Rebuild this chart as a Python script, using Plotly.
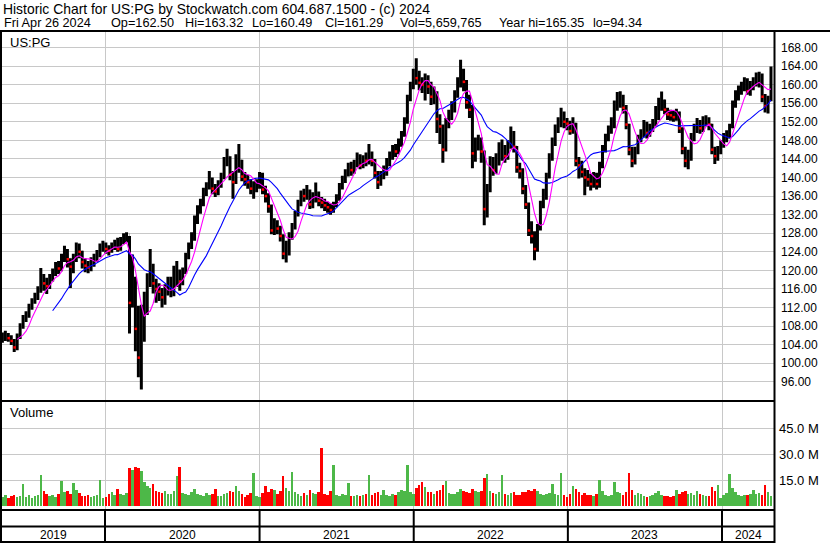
import plotly.graph_objects as go
import pandas as pd

W, H = 830, 543

# ---------------- data (weekly) ----------------
week_end = pd.date_range("2019-05-03", periods=261, freq="W-FRI")

close = [
    105.5, 106.2, 105.4, 104.8, 103.4, 105.6, 107.8, 109.6, 110.2, 112.0,
    113.2, 114.0, 115.8, 118.2, 117.2, 116.6, 118.4, 119.6, 120.8, 120.4,
    122.6, 124.2, 122.4, 120.8, 122.6, 124.8, 124.0, 121.8, 121.0, 120.6,
    122.0, 122.6, 123.6, 125.0, 125.4, 124.6, 124.2, 125.2, 125.8, 124.6,
    126.2, 127.2, 127.6, 113.0, 118.4, 107.4, 101.2, 108.2, 112.4, 117.2,
    121.0, 117.2, 116.0, 115.4, 114.2, 115.2, 116.6, 117.0, 117.6, 119.0,
    117.6, 119.6, 123.0, 125.2, 127.0, 131.0, 133.0, 134.6, 137.0, 138.2,
    139.6, 137.6, 137.0, 138.6, 140.2, 143.0, 144.4, 140.6, 139.0, 142.2,
    143.6, 140.2, 139.6, 139.0, 137.6, 138.0, 138.6, 139.0, 137.4, 136.0,
    133.8, 128.6, 130.0, 129.0, 127.4, 123.6, 124.2, 127.2, 129.2, 132.0,
    134.4, 136.4, 136.0, 137.0, 134.2, 135.6, 136.2, 135.0, 134.6, 134.0,
    133.6, 133.0, 134.2, 135.6, 138.0, 139.6, 141.0, 142.4, 141.6, 143.0,
    144.6, 142.6, 144.0, 143.6, 145.0, 143.6, 141.0, 139.0, 140.6, 141.2,
    143.2, 144.6, 146.2, 145.6, 147.6, 149.2, 152.2, 157.0, 159.6, 162.6,
    161.4, 160.4, 160.0, 161.2, 159.6, 157.4, 158.2, 152.6, 151.0, 146.0,
    151.6, 153.2, 154.6, 157.6, 160.2, 162.4, 160.6, 156.2, 154.6, 145.2,
    147.2, 148.0, 145.6, 133.2, 137.4, 143.2, 141.6, 143.6, 145.2, 146.2,
    144.6, 146.6, 149.6, 146.6, 142.2, 141.4, 137.6, 134.2, 128.6, 127.4,
    124.6, 129.2, 134.2, 135.6, 140.2, 144.2, 147.6, 150.6, 151.2, 153.2,
    152.0, 151.6, 150.0, 151.6, 143.6, 142.6, 141.2, 140.0, 139.6, 138.6,
    140.2, 138.6, 142.6, 146.2, 148.6, 150.4, 151.2, 155.6, 156.6, 157.4,
    155.0, 151.4, 146.0, 143.6, 145.6, 148.2, 149.2, 151.6, 149.6, 150.6,
    151.6, 152.6, 155.6, 156.6, 154.6, 153.6, 153.4, 153.0, 154.0, 150.6,
    146.2, 143.6, 144.2, 148.6, 150.4, 151.6, 150.6, 152.0, 152.6, 151.4,
    146.0, 144.6, 145.6, 147.2, 148.6, 149.0, 150.6, 155.6, 157.6, 158.6,
    159.6, 160.6, 158.6, 159.6, 160.6, 161.6, 162.0, 157.4, 155.4, 156.6,
    161.29,
]

high = [
    106.6, 107.0, 106.5, 106.0, 105.2, 106.4, 108.6, 110.4, 111.2, 112.8,
    114.0, 115.2, 116.6, 120.5, 119.2, 118.4, 119.2, 120.4, 121.8, 122.0,
    123.6, 125.3, 124.6, 122.6, 123.6, 126.0, 125.8, 124.2, 122.6, 122.0,
    122.8, 123.6, 124.4, 125.8, 126.4, 126.0, 125.4, 126.0, 126.6, 127.0,
    127.2, 128.0, 128.2, 127.4, 123.4, 118.6, 112.4, 112.6, 115.4, 119.4,
    124.6, 121.4, 118.2, 117.2, 116.2, 117.0, 118.6, 118.6, 121.0, 122.0,
    120.2, 120.6, 123.8, 126.0, 128.2, 131.8, 134.0, 135.4, 137.8, 139.0,
    141.4, 140.0, 138.6, 139.4, 141.0, 144.4, 146.2, 144.6, 141.4, 145.0,
    147.2, 143.8, 141.2, 140.6, 139.6, 139.2, 139.6, 141.2, 141.0, 138.2,
    136.6, 134.2, 131.2, 130.8, 129.6, 127.8, 126.4, 128.2, 130.2, 132.8,
    135.2, 137.2, 137.6, 138.4, 137.4, 136.8, 138.9, 137.0, 135.8, 135.4,
    134.8, 134.4, 134.8, 136.4, 138.8, 140.4, 141.8, 143.2, 143.4, 143.8,
    145.4, 145.0, 144.8, 145.4, 147.2, 145.6, 144.0, 141.4, 141.4, 142.6,
    144.2, 145.6, 147.0, 147.2, 148.4, 150.0, 153.0, 157.8, 160.6, 163.4,
    165.7, 163.0, 161.6, 162.4, 162.0, 160.6, 159.6, 158.6, 153.6, 151.4,
    152.8, 154.6, 156.4, 158.8, 161.6, 165.35, 163.4, 161.0, 157.8, 155.6,
    148.6, 149.2, 148.6, 145.8, 138.6, 144.6, 144.4, 145.2, 147.6, 148.2,
    147.0, 148.0, 151.0, 150.0, 146.8, 143.2, 142.0, 138.4, 134.6, 130.6,
    128.4, 130.0, 135.0, 137.6, 141.0, 145.2, 148.6, 151.4, 153.0, 155.0,
    154.2, 152.8, 152.2, 153.0, 151.8, 144.4, 143.6, 142.0, 141.6, 140.8,
    141.2, 141.0, 143.4, 147.0, 149.4, 151.2, 153.0, 156.6, 158.4, 158.6,
    157.8, 155.6, 151.6, 146.6, 146.6, 149.2, 150.4, 152.4, 152.0, 151.6,
    152.6, 155.4, 157.2, 158.5, 156.8, 155.0, 154.6, 154.4, 154.8, 154.2,
    150.8, 146.6, 146.0, 149.6, 151.6, 152.8, 152.4, 153.2, 153.4, 153.0,
    151.6, 146.6, 146.8, 148.0, 149.6, 150.2, 151.6, 156.6, 158.8, 159.8,
    160.6, 161.6, 161.4, 160.8, 161.6, 162.6, 162.8, 162.4, 158.0, 157.6,
    163.9,
]

low = [
    104.4, 104.8, 104.6, 103.9, 102.4, 102.8, 105.2, 107.4, 108.9, 109.8,
    111.5, 112.8, 113.6, 115.2, 115.6, 114.9, 116.0, 117.6, 118.8, 119.2,
    119.8, 121.8, 120.6, 116.2, 119.4, 121.8, 122.6, 120.4, 119.6, 119.4,
    119.8, 120.8, 121.8, 122.8, 124.0, 123.6, 123.2, 123.8, 124.4, 124.0,
    124.2, 125.6, 126.0, 106.4, 112.0, 102.6, 97.0, 94.34, 104.6, 110.4,
    116.4, 115.0, 113.0, 113.4, 112.0, 112.6, 114.6, 114.2, 114.4, 116.4,
    115.6, 116.8, 119.2, 122.4, 124.6, 126.4, 130.0, 132.2, 133.8, 136.0,
    137.4, 136.4, 135.8, 136.2, 137.8, 139.6, 142.4, 139.4, 135.4, 138.6,
    141.0, 139.2, 138.2, 137.6, 136.4, 135.4, 136.8, 137.6, 136.4, 134.6,
    132.4, 127.8, 127.6, 127.8, 126.2, 122.4, 121.7, 123.2, 126.6, 128.8,
    131.6, 133.8, 134.8, 135.2, 133.2, 133.4, 134.6, 133.8, 133.4, 132.8,
    132.4, 132.0, 132.4, 133.6, 135.0, 137.4, 138.8, 140.2, 140.4, 140.8,
    142.2, 141.8, 142.0, 142.4, 142.8, 142.4, 139.8, 137.5, 138.2, 139.6,
    140.4, 142.4, 143.8, 144.4, 145.0, 146.6, 148.8, 151.6, 156.4, 159.0,
    160.0, 158.8, 158.2, 156.6, 158.0, 155.6, 155.8, 149.6, 147.2, 143.2,
    145.6, 150.6, 152.4, 154.0, 157.2, 159.4, 158.6, 154.8, 152.8, 142.0,
    143.4, 145.8, 143.2, 129.7, 131.4, 136.8, 140.4, 140.8, 142.6, 143.6,
    143.2, 143.8, 146.2, 145.4, 141.0, 139.8, 136.4, 133.2, 127.4, 125.8,
    122.2, 124.0, 128.6, 133.4, 135.2, 139.8, 143.6, 146.8, 149.6, 150.8,
    150.6, 150.2, 149.2, 149.4, 142.4, 139.8, 140.0, 136.2, 138.0, 137.2,
    137.8, 137.4, 137.8, 142.0, 145.4, 147.8, 149.4, 150.6, 154.4, 155.0,
    153.8, 150.4, 144.8, 142.2, 142.8, 145.0, 147.6, 148.6, 148.4, 148.8,
    149.8, 151.0, 152.4, 154.4, 153.6, 152.4, 152.2, 152.0, 152.2, 149.6,
    145.0, 142.2, 141.8, 143.6, 147.8, 149.6, 149.4, 149.8, 151.0, 150.2,
    145.0, 142.9, 143.6, 145.0, 146.4, 147.6, 148.4, 150.6, 155.0, 156.6,
    157.8, 158.6, 157.8, 157.6, 158.8, 159.6, 159.4, 156.2, 154.0, 153.8,
    156.4,
]

# average daily volume per week, millions of shares
volume = [
    5.4, 6.2, 4.8, 5.7, 6.5, 5.3, 6.0, 12.8, 5.0, 6.4,
    4.8, 5.7, 6.6, 17.9, 8.8, 7.1, 5.5, 6.2, 5.3, 6.9,
    14.5, 7.8, 8.4, 7.1, 13.3, 9.1, 7.5, 6.0, 5.5, 6.4,
    5.0, 6.0, 6.6, 15.0, 4.6, 5.3, 6.9, 7.8, 6.2, 9.8,
    7.1, 6.4, 7.3, 21.8, 20.7, 22.4, 21.8, 20.2, 13.9, 11.8,
    10.5, 12.8, 8.9, 8.0, 7.3, 8.7, 7.1, 6.9, 8.4, 17.3,
    22.4, 7.5, 7.1, 6.6, 8.0, 9.6, 7.1, 6.4, 5.7, 7.3,
    6.6, 7.1, 9.8, 6.0, 5.7, 6.9, 7.5, 8.4, 7.8, 11.6,
    8.9, 7.1, 5.3, 6.6, 7.3, 19.0, 5.5, 5.0, 7.5, 11.6,
    8.2, 9.8, 9.1, 7.1, 8.9, 17.3, 10.5, 8.4, 19.6, 7.8,
    6.9, 6.0, 7.3, 6.6, 9.4, 7.5, 6.9, 8.2, 33.2, 7.1,
    6.4, 8.9, 23.5, 6.2, 5.7, 7.1, 6.4, 13.3, 6.0, 5.5,
    6.2, 5.7, 6.6, 7.1, 17.9, 6.2, 7.5, 8.2, 6.6, 9.1,
    6.4, 5.7, 6.9, 6.2, 7.8, 9.4, 8.7, 23.5, 8.2, 7.1,
    10.5, 12.3, 13.9, 10.9, 8.2, 7.8, 7.1, 8.4, 9.4, 12.3,
    14.5, 7.5, 6.9, 7.1, 7.8, 10.0, 8.9, 8.2, 7.5, 9.6,
    8.9, 8.0, 8.7, 16.2, 18.4, 8.9, 7.3, 6.9, 7.8, 17.9,
    7.1, 6.2, 7.5, 8.0, 6.6, 6.4, 8.2, 7.8, 9.4, 8.4,
    10.0, 8.7, 7.1, 6.6, 6.9, 7.3, 12.8, 7.1, 6.4, 19.0,
    6.6, 5.3, 7.1, 11.6, 9.8, 7.8, 6.4, 7.3, 6.6, 6.2,
    5.7, 6.9, 15.0, 8.4, 6.6, 5.7, 6.4, 13.9, 8.2, 7.3,
    6.6, 8.0, 19.0, 9.4, 6.2, 7.5, 6.9, 5.5, 5.0, 6.0,
    6.4, 7.3, 8.9, 6.4, 6.0, 5.5, 5.3, 5.7, 9.4, 7.1,
    8.0, 8.9, 6.9, 7.5, 6.6, 8.4, 7.1, 6.4, 5.7, 6.0,
    11.2, 8.4, 12.3, 4.8, 6.2, 7.3, 18.4, 10.5, 8.0, 6.6,
    5.7, 6.4, 6.2, 7.1, 9.4, 6.9, 7.3, 6.6, 12.2, 7.8,
    5.66,
]

first_open = 105.0
year_starts = ["2020-01-01", "2021-01-01", "2022-01-01", "2023-01-01", "2024-01-01"]
year_labels = ["2019", "2020", "2021", "2022", "2023", "2024"]
price_ticks = list(range(96, 169, 4))
volume_ticks = [15, 30, 45]

header1 = "Historic Chart for US:PG by Stockwatch.com 604.687.1500 - (c) 2024"
header2_fields = ["Fri Apr 26 2024", "Op=162.50", "Hi=163.32", "Lo=160.49", "Cl=161.29",
                  "Vol=5,659,765", "Year hi=165.35", "lo=94.34"]
header2_x = [1.5, 109, 182.5, 250, 323, 398, 497, 591]   # left edges in pixels (layout)

# ---------------- derived ----------------
opens = [first_open] + close[:-1]
cs = pd.Series(close)
ma_fast = cs.rolling(6).mean()
ma_slow = cs.rolling(18).mean()
vol_colors = []
for i, c in enumerate(close):
    p = opens[i]
    vol_colors.append("#4DB848" if c > p else ("#FF0000" if c < p else "#A0A0A0"))
down_x = [week_end[i] + pd.Timedelta(days=1) for i in range(len(close)) if close[i] < opens[i]]
down_y = [close[i] for i in range(len(close)) if close[i] < opens[i]]

# ---------------- geometry helpers (pixel -> paper) ----------------
def px(x):
    return x / W

def py(y):
    return 1 - y / H

X_LEFT, X_RIGHT = 2, 774
P_TOP, P_BOT = 32, 400
V_TOP, V_BOT = 402, 509.5
x_range = ["2019-05-02 02:00", "2024-05-03 03:00"]

FONT = "Liberation Sans, Arial, sans-serif"

fig = go.Figure()

fig.add_trace(go.Ohlc(
    x=week_end, open=opens, high=high, low=low, close=close,
    increasing=dict(line=dict(color="black", width=3)),
    decreasing=dict(line=dict(color="black", width=3)),
    tickwidth=0.08, showlegend=False, hoverinfo="skip",
    xaxis="x", yaxis="y"))

fig.add_trace(go.Scatter(
    x=down_x, y=down_y, mode="markers",
    marker=dict(symbol="square", size=2.5, color="#FF0000", line=dict(width=0)),
    showlegend=False, hoverinfo="skip", xaxis="x", yaxis="y"))

fig.add_trace(go.Scatter(
    x=week_end, y=ma_slow, mode="lines", line=dict(color="#0000FF", width=1.1),
    showlegend=False, hoverinfo="skip", xaxis="x", yaxis="y"))
fig.add_trace(go.Scatter(
    x=week_end, y=ma_fast, mode="lines", line=dict(color="#FF00FF", width=1.1),
    showlegend=False, hoverinfo="skip", xaxis="x", yaxis="y"))

fig.add_trace(go.Bar(
    x=week_end, y=volume, marker=dict(color=vol_colors, line=dict(width=0)),
    width=6 * 24 * 3600 * 1000, showlegend=False, hoverinfo="skip",
    xaxis="x2", yaxis="y2"))

grid = "#C8C8C8"
common_x = dict(type="date", range=x_range, domain=[px(X_LEFT), px(X_RIGHT)],
                tickvals=year_starts, showticklabels=False, ticks="",
                showgrid=True, gridcolor=grid, gridwidth=1, zeroline=False,
                showline=False, rangeslider=dict(visible=False), fixedrange=True)

p_scale = (381.8 - 47.5) / 72.0
p_hi = 96 + (381.8 - P_TOP) / p_scale
p_lo = 96 - (P_BOT - 381.8) / p_scale
v_scale = 26.0 / 15.0
v_zero = 506.0
v_hi = (v_zero - V_TOP) / v_scale
v_lo = -(V_BOT - v_zero) / v_scale

fig.update_layout(
    width=W, height=H, margin=dict(l=0, r=0, t=0, b=0, pad=0),
    paper_bgcolor="white", plot_bgcolor="white", showlegend=False,
    font=dict(family=FONT, color="black", size=12),
    bargap=0,
    xaxis=dict(**common_x, anchor="y"),
    xaxis2=dict(**common_x, anchor="y2", matches="x"),
    yaxis=dict(domain=[py(P_BOT), py(P_TOP)], range=[p_lo, p_hi], side="right",
               tickvals=price_ticks, ticktext=[f"{v:.2f}" for v in price_ticks],
               ticks="", ticklabelstandoff=6, showgrid=True, gridcolor=grid,
               gridwidth=1, zeroline=False, showline=False, fixedrange=True,
               tickfont=dict(size=12, family=FONT), anchor="x"),
    yaxis2=dict(domain=[py(V_BOT), py(V_TOP)], range=[v_lo, v_hi], side="right",
                tickvals=volume_ticks, ticktext=[f"{v:.1f} M" for v in volume_ticks],
                ticks="", ticklabelstandoff=4, showgrid=True, gridcolor=grid,
                gridwidth=1, zeroline=False, showline=False, fixedrange=True,
                tickfont=dict(size=13, family=FONT), anchor="x2"),
)

# ---------------- frame lines ----------------
def hline(y, x0=0, x1=X_RIGHT + 1, w=2):
    fig.add_shape(type="line", xref="paper", yref="paper", x0=px(x0), x1=px(x1),
                  y0=py(y), y1=py(y), line=dict(color="black", width=w))

def vline(x, y0, y1, w=2):
    fig.add_shape(type="line", xref="paper", yref="paper", x0=px(x), x1=px(x),
                  y0=py(y0), y1=py(y1), line=dict(color="black", width=w))

hline(31, 0, W)
hline(401)
hline(510)
hline(526.5)
hline(542)
vline(1, 31, 543)
vline(774.5, 31, 543)

for ys in year_starts:
    fig.add_shape(type="line", xref="x", yref="paper", x0=ys, x1=ys,
                  y0=py(542), y1=py(510), line=dict(color="black", width=2))

# ---------------- texts ----------------
def label(x, y, text, size=13, xanchor="left"):
    fig.add_annotation(xref="paper", yref="paper", x=px(x), y=py(y), text=text,
                       showarrow=False, xanchor=xanchor, yanchor="middle",
                       font=dict(family=FONT, size=size, color="black"))

label(1, 9, header1, size=13.9)
for t, xx in zip(header2_fields, header2_x):
    label(xx, 23, t, size=12.7)
label(8, 42, "US:PG")
label(8, 413, "Volume")

bounds = [pd.Timestamp(x_range[0])] + [pd.Timestamp(s) for s in year_starts] + [pd.Timestamp(x_range[1])]
for i, yl in enumerate(year_labels):
    mid = bounds[i] + (bounds[i + 1] - bounds[i]) / 2
    fig.add_annotation(xref="x", yref="paper", x=mid, y=py(535), text=yl,
                       showarrow=False, xanchor="center", yanchor="middle",
                       font=dict(family=FONT, size=12, color="black"))

fig.write_html(
    "out.html",
    config={"displayModeBar": False},
    post_script="document.body.style.margin='0px';document.body.style.overflow='hidden';",
)
